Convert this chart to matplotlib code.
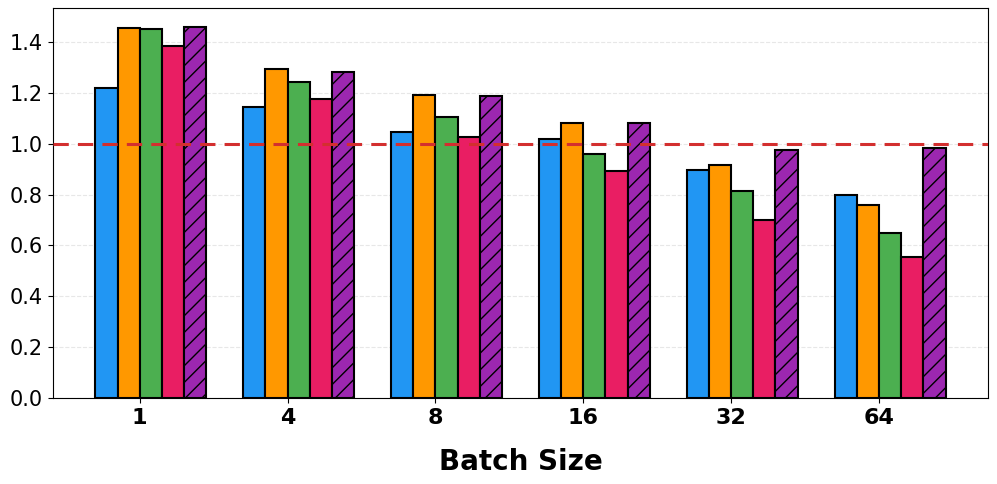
import matplotlib
matplotlib.use('Agg')
import matplotlib.pyplot as plt
import numpy as np

"""資料"""
batch_sizes = ['1', '4', '8', '16', '32', '64']
series_a = [1.22, 1.147, 1.048, 1.02, 0.898, 0.80]
series_b = [1.457, 1.295, 1.193, 1.083, 0.917, 0.76]
series_c = [1.453, 1.244, 1.106, 0.961, 0.815, 0.65]
series_d = [1.386, 1.177, 1.028, 0.894, 0.70, 0.555]
series_e = [1.461, 1.283, 1.19, 1.083, 0.976, 0.984]

colors = ['#2196F3', '#FF9800', '#4CAF50', '#E91E63', '#9C27B0']
hatches = [None, None, None, None, '//']

fig = plt.figure(figsize=(9.97, 4.84), dpi=100)
ax = fig.add_axes([0.053, 0.178, 0.938, 0.805])

x = np.arange(len(batch_sizes))
w = 0.15
all_series = [series_a, series_b, series_c, series_d, series_e]
for i, vals in enumerate(all_series):
    ax.bar(x + (i - 1.5) * w, vals, w, color=colors[i], edgecolor='black',
           linewidth=1.5, hatch=hatches[i], zorder=3)

ax.axhline(1.0, color='#D32F2F', linestyle='--', linewidth=2.2, dashes=(5, 3), zorder=4)

ax.set_xticks(x)
ax.set_xticklabels(batch_sizes, fontsize=16, fontweight='bold')
ax.set_xlabel('Batch Size', fontsize=20, fontweight='bold', labelpad=15)
ax.set_yticks(np.arange(0, 1.41, 0.2))
ax.set_yticklabels(['%.1f' % v for v in np.arange(0, 1.41, 0.2)], fontsize=15)
ax.set_ylim(0, max(series_e) * 1.05)
ax.grid(axis='y', linestyle='--', alpha=0.3, zorder=0)

fig.savefig('out.png', dpi=100)
